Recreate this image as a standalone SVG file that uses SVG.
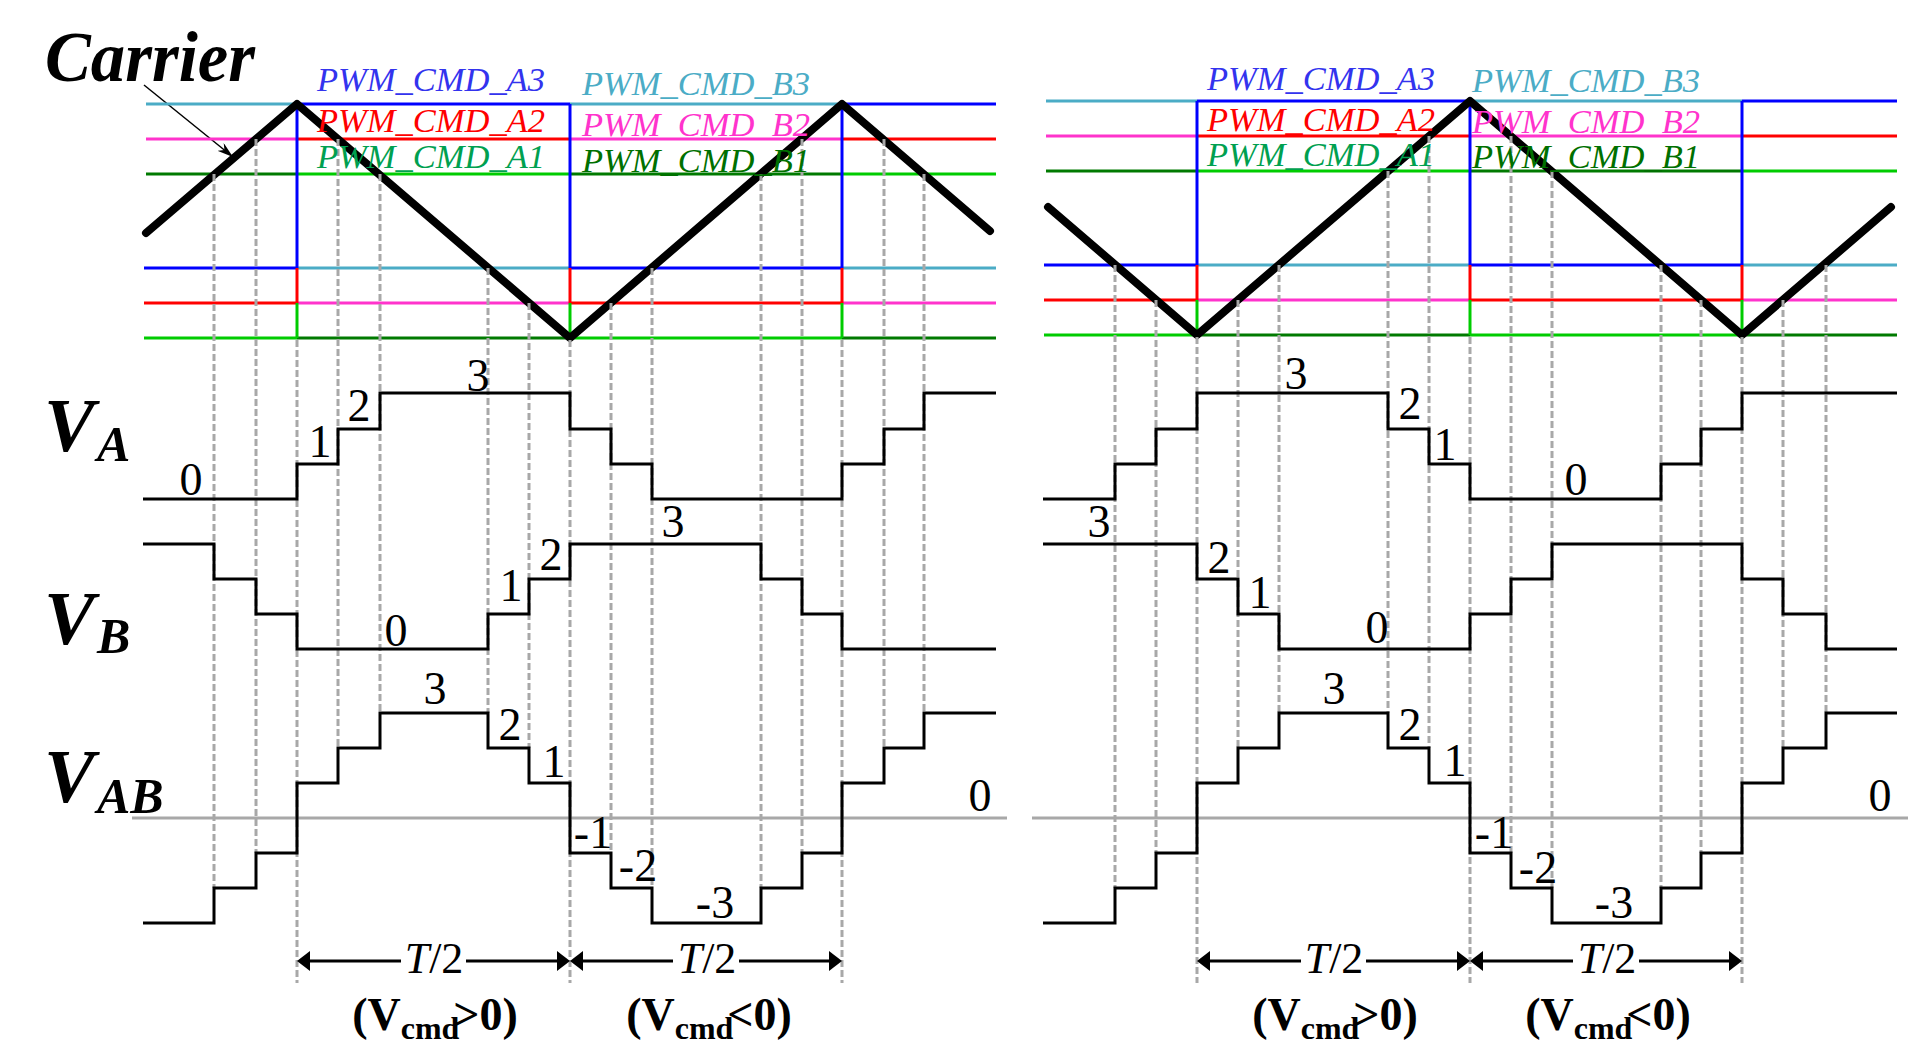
<svg xmlns="http://www.w3.org/2000/svg" width="1910" height="1043" viewBox="0 0 1910 1043">
<style>
text{font-family:"Liberation Serif","Times New Roman",serif;}
.lbl{font-size:34px;font-style:italic;}
.big{font-size:76px;font-weight:bold;font-style:italic;}
.sub{font-size:50px;font-weight:bold;font-style:italic;}
.num{font-size:46px;text-anchor:middle;fill:#000;}
.th{font-size:44px;text-anchor:middle;}
.cmd{font-size:46px;font-weight:bold;text-anchor:middle;}
.cs{font-size:32px;font-weight:bold;}
.cy{stroke:#4bacc6;stroke-width:3;fill:none;}
.mg{stroke:#ff33cc;stroke-width:3;fill:none;}
.bl{stroke:#0000ff;stroke-width:3;fill:none;}
.rd{stroke:#ff0000;stroke-width:3;fill:none;}
.gn{stroke:#00cc00;stroke-width:3;fill:none;}
.dg{stroke:#007a00;stroke-width:3;fill:none;}
.dash{stroke:#a8a8a8;stroke-width:3;stroke-dasharray:7 3;fill:none;}
.zero{stroke:#a8a8a8;stroke-width:3;fill:none;}
.carrier{stroke:#000;stroke-width:8;fill:none;stroke-linecap:round;stroke-linejoin:round;}
.wave{stroke:#000;stroke-width:3;fill:none;}
.arr{stroke:#000;stroke-width:3;fill:none;}
</style>
<defs>
<marker id="ah" viewBox="0 0 16 10" refX="16" refY="5" markerWidth="16" markerHeight="10" markerUnits="userSpaceOnUse" orient="auto">
<path d="M0,0 L16,5 L0,10 L5,5 Z" fill="#000"/>
</marker>
</defs>
<rect width="1910" height="1043" fill="#fff"/>

<g id="carrier-label">
<text x="45" y="81" font-size="72" font-weight="bold" font-style="italic" textLength="210" lengthAdjust="spacingAndGlyphs">Carrier</text>
<line x1="144" y1="85" x2="233" y2="157" stroke="#000" stroke-width="1.5" marker-end="url(#ah)"/>
</g>

<g id="left-levels">
<line class="cy" x1="146" y1="104" x2="297" y2="104"/><line class="bl" x1="297" y1="104" x2="570" y2="104"/><line class="cy" x1="570" y1="104" x2="842" y2="104"/><line class="bl" x1="842" y1="104" x2="996" y2="104"/>
<line class="mg" x1="146" y1="139" x2="297" y2="139"/><line class="rd" x1="297" y1="139" x2="570" y2="139"/><line class="mg" x1="570" y1="139" x2="842" y2="139"/><line class="rd" x1="842" y1="139" x2="996" y2="139"/>
<line class="dg" x1="146" y1="174" x2="297" y2="174"/><line class="gn" x1="297" y1="174" x2="570" y2="174"/><line class="dg" x1="570" y1="174" x2="842" y2="174"/><line class="gn" x1="842" y1="174" x2="996" y2="174"/>
<line class="bl" x1="144" y1="268" x2="297" y2="268"/><line class="cy" x1="297" y1="268" x2="570" y2="268"/><line class="bl" x1="570" y1="268" x2="842" y2="268"/><line class="cy" x1="842" y1="268" x2="996" y2="268"/>
<line class="rd" x1="144" y1="303" x2="297" y2="303"/><line class="mg" x1="297" y1="303" x2="570" y2="303"/><line class="rd" x1="570" y1="303" x2="842" y2="303"/><line class="mg" x1="842" y1="303" x2="996" y2="303"/>
<line class="gn" x1="144" y1="338" x2="297" y2="338"/><line class="dg" x1="297" y1="338" x2="570" y2="338"/><line class="gn" x1="570" y1="338" x2="842" y2="338"/><line class="dg" x1="842" y1="338" x2="996" y2="338"/>
<line class="bl" x1="297" y1="104" x2="297" y2="268"/><line class="rd" x1="297" y1="268" x2="297" y2="303"/><line class="gn" x1="297" y1="303" x2="297" y2="338"/>
<line class="bl" x1="570" y1="104" x2="570" y2="268"/><line class="rd" x1="570" y1="268" x2="570" y2="303"/><line class="gn" x1="570" y1="303" x2="570" y2="338"/>
<line class="bl" x1="842" y1="104" x2="842" y2="268"/><line class="rd" x1="842" y1="268" x2="842" y2="303"/><line class="gn" x1="842" y1="303" x2="842" y2="338"/>
</g>

<g id="right-levels">
<line class="cy" x1="1046" y1="101" x2="1197" y2="101"/><line class="bl" x1="1197" y1="101" x2="1470" y2="101"/><line class="cy" x1="1470" y1="101" x2="1742" y2="101"/><line class="bl" x1="1742" y1="101" x2="1897" y2="101"/>
<line class="mg" x1="1046" y1="136" x2="1197" y2="136"/><line class="rd" x1="1197" y1="136" x2="1470" y2="136"/><line class="mg" x1="1470" y1="136" x2="1742" y2="136"/><line class="rd" x1="1742" y1="136" x2="1897" y2="136"/>
<line class="dg" x1="1046" y1="171" x2="1197" y2="171"/><line class="gn" x1="1197" y1="171" x2="1470" y2="171"/><line class="dg" x1="1470" y1="171" x2="1742" y2="171"/><line class="gn" x1="1742" y1="171" x2="1897" y2="171"/>
<line class="bl" x1="1044" y1="265" x2="1197" y2="265"/><line class="cy" x1="1197" y1="265" x2="1470" y2="265"/><line class="bl" x1="1470" y1="265" x2="1742" y2="265"/><line class="cy" x1="1742" y1="265" x2="1897" y2="265"/>
<line class="rd" x1="1044" y1="300" x2="1197" y2="300"/><line class="mg" x1="1197" y1="300" x2="1470" y2="300"/><line class="rd" x1="1470" y1="300" x2="1742" y2="300"/><line class="mg" x1="1742" y1="300" x2="1897" y2="300"/>
<line class="gn" x1="1044" y1="335" x2="1197" y2="335"/><line class="dg" x1="1197" y1="335" x2="1470" y2="335"/><line class="gn" x1="1470" y1="335" x2="1742" y2="335"/><line class="dg" x1="1742" y1="335" x2="1897" y2="335"/>
<line class="bl" x1="1197" y1="101" x2="1197" y2="265"/><line class="rd" x1="1197" y1="265" x2="1197" y2="300"/><line class="gn" x1="1197" y1="300" x2="1197" y2="335"/>
<line class="bl" x1="1470" y1="101" x2="1470" y2="265"/><line class="rd" x1="1470" y1="265" x2="1470" y2="300"/><line class="gn" x1="1470" y1="300" x2="1470" y2="335"/>
<line class="bl" x1="1742" y1="101" x2="1742" y2="265"/><line class="rd" x1="1742" y1="265" x2="1742" y2="300"/><line class="gn" x1="1742" y1="300" x2="1742" y2="335"/>
</g>

<g id="carriers">
<polyline class="carrier" points="146,233 297,104 570,338 842,104 990,231"/>
<polyline class="carrier" points="1048,207 1197,335 1470,101 1742,335 1891,207"/>
</g>

<g id="dashes">
<line class="dash" x1="214" y1="174" x2="214" y2="888"/>
<line class="dash" x1="256" y1="139" x2="256" y2="853"/>
<line class="dash" x1="297" y1="340" x2="297" y2="983"/>
<line class="dash" x1="338" y1="139" x2="338" y2="748"/>
<line class="dash" x1="380" y1="174" x2="380" y2="713"/>
<line class="dash" x1="488" y1="268" x2="488" y2="713"/>
<line class="dash" x1="529" y1="303" x2="529" y2="748"/>
<line class="dash" x1="570" y1="340" x2="570" y2="983"/>
<line class="dash" x1="611" y1="303" x2="611" y2="853"/>
<line class="dash" x1="652" y1="268" x2="652" y2="888"/>
<line class="dash" x1="761" y1="174" x2="761" y2="888"/>
<line class="dash" x1="802" y1="139" x2="802" y2="853"/>
<line class="dash" x1="842" y1="340" x2="842" y2="983"/>
<line class="dash" x1="884" y1="139" x2="884" y2="748"/>
<line class="dash" x1="924" y1="174" x2="924" y2="713"/>
<line class="dash" x1="1115" y1="265" x2="1115" y2="888"/>
<line class="dash" x1="1156" y1="300" x2="1156" y2="853"/>
<line class="dash" x1="1197" y1="337" x2="1197" y2="983"/>
<line class="dash" x1="1238" y1="300" x2="1238" y2="748"/>
<line class="dash" x1="1279" y1="265" x2="1279" y2="713"/>
<line class="dash" x1="1388" y1="171" x2="1388" y2="713"/>
<line class="dash" x1="1429" y1="136" x2="1429" y2="748"/>
<line class="dash" x1="1470" y1="337" x2="1470" y2="983"/>
<line class="dash" x1="1511" y1="136" x2="1511" y2="853"/>
<line class="dash" x1="1552" y1="171" x2="1552" y2="888"/>
<line class="dash" x1="1661" y1="265" x2="1661" y2="888"/>
<line class="dash" x1="1701" y1="300" x2="1701" y2="853"/>
<line class="dash" x1="1742" y1="337" x2="1742" y2="983"/>
<line class="dash" x1="1783" y1="300" x2="1783" y2="748"/>
<line class="dash" x1="1826" y1="265" x2="1826" y2="713"/>
</g>

<g id="pwm-labels" class="lbl">
<text x="317" y="91" fill="#3333ee" textLength="228" lengthAdjust="spacingAndGlyphs">PWM_CMD_A3</text>
<text x="317" y="132" fill="#ff0000" textLength="228" lengthAdjust="spacingAndGlyphs">PWM_CMD_A2</text>
<text x="317" y="168" fill="#00a050" textLength="228" lengthAdjust="spacingAndGlyphs">PWM_CMD_A1</text>
<text x="582" y="95" fill="#4bacc6" textLength="228" lengthAdjust="spacingAndGlyphs">PWM_CMD_B3</text>
<text x="582" y="136" fill="#ff33cc" textLength="228" lengthAdjust="spacingAndGlyphs">PWM_CMD_B2</text>
<text x="582" y="172" fill="#007000" textLength="228" lengthAdjust="spacingAndGlyphs">PWM_CMD_B1</text>
<text x="1207" y="90" fill="#3333ee" textLength="228" lengthAdjust="spacingAndGlyphs">PWM_CMD_A3</text>
<text x="1207" y="131" fill="#ff0000" textLength="228" lengthAdjust="spacingAndGlyphs">PWM_CMD_A2</text>
<text x="1207" y="166" fill="#00a050" textLength="228" lengthAdjust="spacingAndGlyphs">PWM_CMD_A1</text>
<text x="1472" y="92" fill="#4bacc6" textLength="228" lengthAdjust="spacingAndGlyphs">PWM_CMD_B3</text>
<text x="1472" y="133" fill="#ff33cc" textLength="228" lengthAdjust="spacingAndGlyphs">PWM_CMD_B2</text>
<text x="1472" y="168" fill="#007000" textLength="228" lengthAdjust="spacingAndGlyphs">PWM_CMD_B1</text>
</g>

<g id="axis-labels">
<text class="big" x="44" y="451">V<tspan class="sub" x="97" y="461">A</tspan></text>
<text class="big" x="44" y="644">V<tspan class="sub" x="97" y="653">B</tspan></text>
<text class="big" x="44" y="802">V<tspan class="sub" x="97" y="813">AB</tspan></text>
</g>

<g id="zero-lines">
<line class="zero" x1="132" y1="818" x2="1007" y2="818"/>
<line class="zero" x1="1032" y1="818" x2="1908" y2="818"/>
</g>

<g id="waves-left">
<polyline class="wave" points="143,499 297,499 297,464 338,464 338,429 380,429 380,393 570,393 570,429 611,429 611,464 652,464 652,499 842,499 842,464 884,464 884,429 924,429 924,393 996,393"/>
<polyline class="wave" points="143,544 214,544 214,579 256,579 256,614 297,614 297,649 488,649 488,614 529,614 529,579 570,579 570,544 761,544 761,579 802,579 802,614 842,614 842,649 996,649"/>
<polyline class="wave" points="143,923 214,923 214,888 256,888 256,853 297,853 297,783 338,783 338,748 380,748 380,713 488,713 488,748 529,748 529,783 570,783 570,853 611,853 611,888 652,888 652,923 761,923 761,888 802,888 802,853 842,853 842,783 884,783 884,748 924,748 924,713 996,713"/>
</g>

<g id="waves-right">
<polyline class="wave" points="1043,499 1115,499 1115,464 1156,464 1156,429 1197,429 1197,393 1388,393 1388,429 1429,429 1429,464 1470,464 1470,499 1661,499 1661,464 1701,464 1701,429 1742,429 1742,393 1897,393"/>
<polyline class="wave" points="1043,544 1197,544 1197,579 1238,579 1238,614 1279,614 1279,649 1470,649 1470,614 1511,614 1511,579 1552,579 1552,544 1742,544 1742,579 1783,579 1783,614 1826,614 1826,649 1897,649"/>
<polyline class="wave" points="1043,923 1115,923 1115,888 1156,888 1156,853 1197,853 1197,783 1238,783 1238,748 1279,748 1279,713 1388,713 1388,748 1429,748 1429,783 1470,783 1470,853 1511,853 1511,888 1552,888 1552,923 1661,923 1661,888 1701,888 1701,853 1742,853 1742,783 1783,783 1783,748 1826,748 1826,713 1897,713"/>
</g>

<g id="level-numbers">
<text class="num" x="191" y="495">0</text>
<text class="num" x="320" y="457">1</text>
<text class="num" x="359" y="421">2</text>
<text class="num" x="478" y="391">3</text>
<text class="num" x="396" y="646">0</text>
<text class="num" x="511" y="601">1</text>
<text class="num" x="551" y="570">2</text>
<text class="num" x="673" y="537">3</text>
<text class="num" x="435" y="704">3</text>
<text class="num" x="510" y="740">2</text>
<text class="num" x="554" y="777">1</text>
<text class="num" x="593" y="848">-1</text>
<text class="num" x="638" y="881">-2</text>
<text class="num" x="715" y="918">-3</text>
<text class="num" x="980" y="811">0</text>
<text class="num" x="1296" y="389">3</text>
<text class="num" x="1410" y="419">2</text>
<text class="num" x="1445" y="460">1</text>
<text class="num" x="1576" y="495">0</text>
<text class="num" x="1099" y="537">3</text>
<text class="num" x="1219" y="573">2</text>
<text class="num" x="1260" y="608">1</text>
<text class="num" x="1377" y="643">0</text>
<text class="num" x="1334" y="704">3</text>
<text class="num" x="1410" y="740">2</text>
<text class="num" x="1455" y="776">1</text>
<text class="num" x="1494" y="848">-1</text>
<text class="num" x="1538" y="883">-2</text>
<text class="num" x="1614" y="918">-3</text>
<text class="num" x="1880" y="811">0</text>
</g>

<g id="period-arrows">
<line class="arr" x1="305" y1="961" x2="401" y2="961"/><line class="arr" x1="466" y1="961" x2="562" y2="961"/>
<polygon points="297,961 310,951 310,971"/><polygon points="570,961 557,951 557,971"/>
<line class="arr" x1="578" y1="961" x2="673" y2="961"/><line class="arr" x1="739" y1="961" x2="834" y2="961"/>
<polygon points="570,961 583,951 583,971"/><polygon points="842,961 829,951 829,971"/>
<line class="arr" x1="1205" y1="961" x2="1301" y2="961"/><line class="arr" x1="1366" y1="961" x2="1462" y2="961"/>
<polygon points="1197,961 1210,951 1210,971"/><polygon points="1470,961 1457,951 1457,971"/>
<line class="arr" x1="1478" y1="961" x2="1573" y2="961"/><line class="arr" x1="1639" y1="961" x2="1734" y2="961"/>
<polygon points="1470,961 1483,951 1483,971"/><polygon points="1742,961 1729,951 1729,971"/>
<text class="th" x="434" y="973"><tspan font-style="italic">T</tspan>/2</text>
<text class="th" x="707" y="973"><tspan font-style="italic">T</tspan>/2</text>
<text class="th" x="1334" y="973"><tspan font-style="italic">T</tspan>/2</text>
<text class="th" x="1607" y="973"><tspan font-style="italic">T</tspan>/2</text>
<text class="cmd" x="435" y="1030">(V<tspan class="cs" dy="9">cmd</tspan><tspan dy="-9" dx="-6">&gt;0)</tspan></text>
<text class="cmd" x="709" y="1030">(V<tspan class="cs" dy="9">cmd</tspan><tspan dy="-9" dx="-6">&lt;0)</tspan></text>
<text class="cmd" x="1335" y="1030">(V<tspan class="cs" dy="9">cmd</tspan><tspan dy="-9" dx="-6">&gt;0)</tspan></text>
<text class="cmd" x="1608" y="1030">(V<tspan class="cs" dy="9">cmd</tspan><tspan dy="-9" dx="-6">&lt;0)</tspan></text>
</g>
</svg>
